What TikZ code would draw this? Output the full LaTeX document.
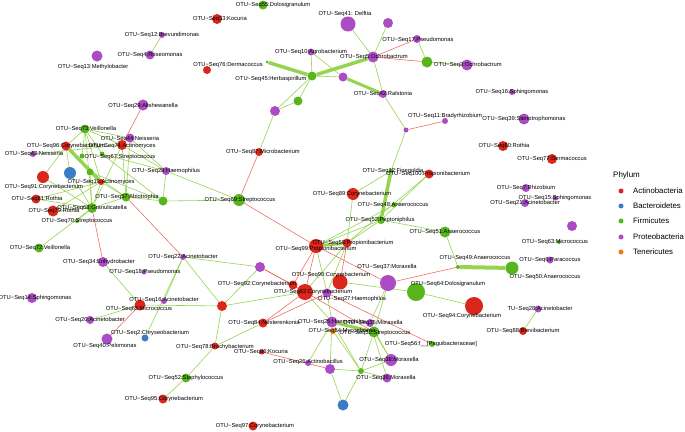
\documentclass[tikz,border=0pt]{standalone}
\usepackage{fontspec}
\setmainfont{Liberation Sans}
\usetikzlibrary{backgrounds}

\definecolor{actc}{RGB}{218,38,28}
\definecolor{bacc}{RGB}{58,125,195}
\definecolor{firc}{RGB}{88,182,28}
\definecolor{proc}{RGB}{172,76,196}
\definecolor{tenc}{RGB}{240,122,20}
\definecolor{edgepos}{RGB}{150,212,80}
\definecolor{edgeneg}{RGB}{238,110,100}

\begin{document}
\begin{tikzpicture}[x=1pt, y=-1pt,
  otu/.style={circle, inner sep=0pt, minimum size=#1},
  act/.style={otu=#1, fill=actc},
  bac/.style={otu=#1, fill=bacc},
  fir/.style={otu=#1, fill=firc},
  pro/.style={otu=#1, fill=proc},
  ten/.style={otu=#1, fill=tenc},
  lab/.style={font=\fontsize{5.8}{6}\selectfont, inner sep=0pt},
  legtext/.style={font=\fontsize{7.8}{9}\selectfont, inner sep=0pt, anchor=west},
  posedge/.style={draw=edgepos, line width=0.6pt},
  negedge/.style={draw=edgeneg, line width=0.6pt},
]
\useasboundingbox (0,0) rectangle (685,431);

% === top ===
\node[fir=9]  (s55) at (263,5) {};
\node[act=10] (s33) at (217,19) {};
\node[pro=6]  (s12) at (162,35) {};
\node[pro=9]  (s4)  at (150,55) {};
\node[pro=11] (s13) at (97,56) {};
\node[act=8]  (s76) at (207,70) {};
\node[pro=15] (s41) at (348,24) {};
\node[pro=10] (u1)  at (388,23) {};
\node[pro=8]  (s17) at (417,39) {};
\node[pro=7]  (s10) at (311,52) {};
\node[pro=11] (s5)  at (373,57) {};
\node[fir=11] (u2)  at (427,62) {};
\node[pro=11] (s3)  at (467,65) {};
\node[fir=3]  (t1)  at (267,62) {};
\node[fir=9]  (s45) at (312,76) {};
\node[pro=9]  (u3)  at (343,77) {};
\node[pro=8]  (s42) at (383,94) {};
\node[pro=5]  (u4)  at (406,130) {};
\node[pro=6]  (s11) at (445,121) {};
\node[fir=9]  (u5)  at (298,101) {};
\node[pro=10] (u6)  at (275,111) {};
\node[act=8]  (s87) at (259,152) {};

% === right column ===
\node[pro=6]  (s16) at (512,92) {};
\node[pro=11] (s39) at (524,119) {};
\node[act=10] (s80) at (503,146) {};
\node[act=10] (s77) at (552,159) {};
\node[pro=8]  (s7)  at (526,188) {};
\node[pro=5]  (s15) at (555,198) {};
\node[pro=8]  (s21) at (525,203) {};
\node[pro=10] (u7)  at (572,226) {};
\node[fir=4]  (s63) at (559,242) {};
\node[pro=7]  (s6)  at (550,260) {};
\node[fir=13] (s50) at (512,268) {};
\node[fir=4]  (s49) at (458,267) {};
\node[fir=11] (s51) at (445,232) {};

% === centre ===
\node[fir=5]  (fg)   at (391,171) {};
\node[act=9]  (s100) at (429,174) {};
\node[act=12] (s89)  at (353,194) {};
\node[fir=5]  (s48)  at (394,205) {};
\node[fir=8]  (pep)  at (381,220) {};
\node[act=9]  (s58)  at (347,243) {};
\node[act=14] (s99)  at (316,246) {};
\node[fir=12] (s69)  at (239,200) {};
\node[fir=9]  (u8)   at (163,201) {};

% === bottom centre ===
\node[pro=16] (s37) at (388,283) {};
\node[fir=18] (s64) at (416,292) {};
\node[act=18] (s94) at (474,306) {};
\node[pro=10] (u9)  at (260,267) {};
\node[act=15] (s90) at (340,282) {};
\node[act=16] (s62) at (305,292) {};
\node[act=9]  (s92) at (293,285) {};
\node[act=10] (u10) at (222,306) {};
\node[pro=9]  (s27) at (327,293) {};
\node[act=9]  (s84) at (263,323) {};
\node[act=5]  (s86) at (262,352) {};
\node[pro=11] (s25) at (332,322) {};
\node[ten=6]  (s54) at (333,331) {};
\node[pro=8]  (s35) at (370,323) {};
\node[fir=11] (s32) at (374,332) {};
\node[fir=6]  (s56) at (432,344) {};
\node[pro=6]  (s26) at (308,363) {};
\node[pro=10] (u12) at (330,369) {};
\node[fir=6]  (u13) at (361,371) {};
\node[pro=12] (s38) at (391,360) {};
\node[pro=9]  (s36) at (387,378) {};
\node[bac=11] (u14) at (343,405) {};
\node[act=9]  (s97) at (253,426) {};
\node[pro=7]  (s28b) at (538,309) {};
\node[act=8]  (s88) at (523,331) {};

% === bottom left ===
\node[pro=6]  (s22) at (183,257) {};
\node[pro=5]  (s18) at (144,272) {};
\node[pro=10] (s34) at (103,262) {};
\node[fir=9]  (s72) at (39,248) {};
\node[pro=6]  (s16b) at (164,301) {};
\node[act=11] (s65) at (140,305) {};
\node[pro=10] (s14) at (32,298) {};
\node[pro=8]  (s20) at (90,320) {};
\node[pro=11] (s40) at (107,339) {};
\node[bac=7]  (s2)  at (145,338) {};
\node[act=7]  (s78) at (215,346) {};
\node[fir=9]  (s52) at (186,378) {};
\node[act=9]  (s95) at (163,399) {};

% === left cluster ===
\node[act=9]  (s96) at (66,146) {};
\node[act=10] (s74) at (122,145) {};
\node[pro=9]  (s44) at (130,138) {};
\node[fir=9]  (s73) at (85,129) {};
\node[pro=11] (s29) at (143,105) {};
\node[pro=6]  (s43) at (33,154) {};
\node[fir=5]  (u15) at (82,156) {};
\node[fir=5]  (s67) at (102,154) {};
\node[act=12] (s91) at (43,177) {};
\node[bac=12] (u16) at (70,173) {};
\node[fir=7]  (u17) at (90,172) {};
\node[act=6]  (s19) at (101,182) {};
\node[act=9]  (s81) at (36,199) {};
\node[fir=9]  (s57) at (126,197) {};
\node[pro=8]  (s28) at (166,171) {};
\node[act=11] (s79) at (53,211) {};
\node[fir=10] (s68) at (92,208) {};
\node[fir=4]  (s70) at (77,221) {};

% === edges ===
\begin{scope}[on background layer]
\draw[posedge] (s12) -- (s4);
\draw[posedge, line width=3.5pt] (t1) -- (s45);
\draw[posedge, line width=3.5pt] (s45) -- (s5);
\draw[posedge] (s41) -- (s5);
\draw[posedge] (u1) -- (s5);
\draw[negedge] (s5) -- (s17);
\draw[negedge] (s5) -- (u2);
\draw[posedge] (s17) -- (u2);
\draw[posedge] (u2) -- (s3);
\draw[posedge] (s45) -- (s10);
\draw[posedge] (s10) -- (u3);
\draw[posedge] (s45) -- (u3);
\draw[posedge, line width=3pt] (u3) -- (s42);
\draw[posedge] (s5) -- (s42);
\draw[posedge] (s42) -- (u4);
\draw[negedge] (u4) -- (s11);
\draw[posedge] (u4) -- (fg);
\draw[posedge] (s45) -- (u5);
\draw[posedge] (s45) -- (u6);
\draw[posedge] (u5) -- (u6);
\draw[posedge] (u6) -- (s87);
\draw[negedge] (s87) -- (s69);
\draw[posedge, line width=3.5pt] (fg) -- (pep);
\draw[posedge] (s89) -- (fg);
\draw[posedge] (s89) -- (s58);
\draw[posedge] (s100) -- (pep);
\draw[posedge] (s100) -- (s58);
\draw[posedge] (s48) -- (s99);
\draw[posedge] (pep) -- (s99);
\draw[posedge] (pep) -- (s58);
\draw[posedge] (pep) -- (s51);
\draw[posedge] (s51) -- (s49);
\draw[posedge, line width=4pt] (s49) -- (s50);
\draw[posedge, line width=3pt] (s99) -- (s58);
\draw[negedge] (s69) -- (s99);
\draw[posedge] (u8) -- (s69);
\draw[posedge] (s28) -- (s69);
\draw[negedge] (s99) -- (s37);
\draw[negedge] (s37) -- (s49);
\draw[posedge] (s90) -- (s64);
\draw[posedge] (s64) -- (s94);
\draw[posedge] (s37) -- (s35);
\draw[posedge] (s37) -- (s32);
\draw[negedge] (s99) -- (s62);
\draw[negedge] (s99) -- (s92);
\draw[posedge] (s99) -- (s27);
\draw[negedge] (s58) -- (s90);
\draw[posedge] (s58) -- (s62);
\draw[posedge] (s58) -- (s27);
\draw[negedge] (u9) -- (s92);
\draw[posedge] (s22) -- (u9);
\draw[negedge] (u9) -- (s62);
\draw[negedge] (s62) -- (s84);
\draw[negedge] (s27) -- (s84);
\draw[negedge] (s27) -- (s56);
\draw[negedge] (s62) -- (s32);
\draw[posedge, line width=3pt] (s25) -- (s32);
\draw[posedge] (s27) -- (s25);
\draw[posedge] (s62) -- (s25);
\draw[posedge] (s35) -- (s38);
\draw[posedge] (s32) -- (s38);
\draw[posedge] (s25) -- (u12);
\draw[posedge] (s25) -- (u13);
\draw[posedge] (s25) -- (s26);
\draw[posedge] (s54) -- (u13);
\draw[negedge] (s86) -- (u12);
\draw[posedge] (u12) -- (u13);
\draw[posedge] (u12) -- (u14);
\draw[posedge] (u13) -- (u14);
\draw[posedge] (u13) -- (s38);
\draw[posedge] (u13) -- (s36);
\draw[posedge] (s32) -- (u13);
\draw[posedge] (s35) -- (s36);
\draw[posedge] (s78) -- (s84);
\draw[posedge] (u10) -- (s62);
\draw[posedge] (u10) -- (s78);
\draw[posedge] (u10) -- (s65);
\draw[posedge] (u10) -- (s22);
\draw[posedge] (u10) -- (u9);
\draw[posedge] (s22) -- (s2);
\draw[posedge] (s22) -- (s16b);
\draw[posedge] (s34) -- (s65);
\draw[posedge] (s20) -- (s65);
\draw[negedge] (s65) -- (s40);
\draw[posedge] (s78) -- (s52);
\draw[posedge] (s52) -- (s95);
\draw[posedge] (s28b) -- (s88);
\draw[negedge] (s57) -- (s22);
\draw[negedge] (s68) -- (s34);
\draw[posedge] (s72) -- (s68);
\draw[negedge] (s29) -- (s74);
\draw[posedge, line width=3.5pt] (s96) -- (s19);
\draw[posedge] (s73) -- (s96);
\draw[posedge] (s73) -- (s74);
\draw[posedge] (s73) -- (s44);
\draw[posedge] (s73) -- (s19);
\draw[posedge] (s73) -- (s67);
\draw[posedge] (s73) -- (u15);
\draw[posedge] (s73) -- (s68);
\draw[posedge] (s43) -- (s74);
\draw[posedge] (s74) -- (s57);
\draw[posedge] (s74) -- (s28);
\draw[posedge] (s74) -- (s68);
\draw[posedge] (s44) -- (s28);
\draw[posedge] (s44) -- (s57);
\draw[posedge] (s67) -- (s28);
\draw[posedge] (s67) -- (u8);
\draw[posedge] (s91) -- (s96);
\draw[posedge] (s91) -- (s68);
\draw[posedge] (u16) -- (s68);
\draw[posedge] (u16) -- (s96);
\draw[posedge] (u17) -- (s68);
\draw[posedge] (u17) -- (s57);
\draw[posedge] (u17) -- (u8);
\draw[posedge] (s19) -- (s68);
\draw[posedge] (s19) -- (s57);
\draw[posedge] (s81) -- (s68);
\draw[posedge] (s81) -- (s19);
\draw[posedge] (s79) -- (s68);
\draw[posedge] (s79) -- (s19);
\draw[posedge] (s57) -- (u8);
\draw[posedge] (s28) -- (u8);
\draw[posedge] (s68) -- (s57);
\draw[posedge] (s68) -- (s70);
\end{scope}

% === labels ===
\node[lab] (l55) at (273,5) {OTU−Seq55:Dolosigranulum};
\node[lab] (l33) at (220,19) {OTU−Seq33:Kocuria};
\node[lab] (l12) at (162,35) {OTU−Seq12:Brevundimonas};
\node[lab] (l4) at (150,55) {OTU−Seq4:Roseomonas};
\node[lab] (l13) at (93,67) {OTU−Seq13:Methylobacter};
\node[lab] (l76) at (228,65) {OTU−Seq76:Dermacoccus};
\node[lab] (l41) at (345,14) {OTU−Seq41: Delftia};
\node[lab] (l17) at (418,40) {OTU−Seq17:Pseudomonas};
\node[lab] (l10) at (311,52) {OTU−Seq10:Agrobacterium};
\node[lab] (l5) at (374,57) {OTU−Seq5:Ochrobactrum};
\node[lab] (l3) at (468,65) {OTU−Seq3:Ochrobactrum};
\node[lab] (l45) at (271,79) {OTU−Seq45:Herbaspirillum};
\node[lab] (l42) at (383,94) {OTU−Seq42:Ralstonia};
\node[lab] (l11) at (445,116) {OTU−Seq11:Bradyrhizobium};
\node[lab] (l87) at (263,152) {OTU−Seq87:Microbacterium};
\node[lab] (l16) at (512,92) {OTU−Seq16:Sphingomonas};
\node[lab] (l39) at (524,119) {OTU−Seq39:Stenotrophomonas};
\node[lab] (l80) at (504,146) {OTU−Seq80:Rothia};
\node[lab] (l77) at (552,159) {OTU−Seq77:Dermacoccus};
\node[lab] (l7) at (526,188) {OTU−Seq7:Rhizobium};
\node[lab] (l15) at (555,198) {OTU−Seq15:Sphingomonas};
\node[lab] (l21) at (525,203) {OTU−Seq21:Acinetobacter};
\node[lab] (l63) at (555,242) {OTU−Seq63:Micrococcus};
\node[lab] (l6) at (550,260) {OTU−Seq6:Paracoccus};
\node[lab] (l50) at (545,277) {OTU−Seq50:Anaerococcus};
\node[lab] (l49) at (475,258) {OTU−Seq49:Anaerococcus};
\node[lab] (l51) at (445,232) {OTU−Seq51:Anaerococcus};
\node[lab] (lfg) at (393,171) {OTU−Seq12:Finegoldia};
\node[lab] (l100) at (428,174) {OTU−Seq100:Propionibacterium};
\node[lab] (l89) at (352,194) {OTU−Seq89:Corynebacterium};
\node[lab] (l48) at (393,205) {OTU−Seq48:Anaerococcus};
\node[lab] (lpep) at (380,220) {OTU−Seq52:Peptoniphilus};
\node[lab] (l58) at (353,243) {OTU−Seq58:Propionibacterium};
\node[lab] (l99) at (316,249) {OTU−Seq99:Propionibacterium};
\node[lab] (l69) at (240,200) {OTU−Seq69:Streptococcus};
\node[lab] (l37) at (387,267) {OTU−Seq37:Moraxella};
\node[lab] (l64) at (448,284) {OTU−Seq64:Dolosigranulum};
\node[lab] (l94) at (462,316) {OTU−Seq94:Corynebacterium};
\node[lab] (l92) at (257,284) {OTU−Seq92:Corynebacterium};
\node[lab] (l90) at (331,275) {OTU−Seq90:Corynebacterium};
\node[lab] (l62) at (313,292) {OTU−Seq62:Corynebacterium};
\node[lab] (l27) at (352,299) {OTU−Seq27:Haemophilus};
\node[lab] (l84) at (264,323) {OTU−Seq84:Nesterenkonia};
\node[lab] (l86) at (261,352) {OTU−Seq86:Kocuria};
\node[lab] (l25) at (332,322) {OTU−Seq25:Haemophilus};
\node[lab] (l54) at (342,331) {OTU−Seq54:Mycoplasma};
\node[lab] (l35) at (373,323) {OTU−Seq35:Moraxella};
\node[lab] (l32) at (375,333) {OTU−Seq32:Streptococcus};
\node[lab] (l56) at (431,344) {OTU−Seq56:f\_\_[Paguibacteraceae]};
\node[lab] (l26) at (308,362) {OTU−Seq26:Actinobacillus};
\node[lab] (l38) at (389,360) {OTU−Seq38:Moraxella};
\node[lab] (l36) at (386,378) {OTU−Seq36:Moraxella};
\node[lab] (l97) at (255,426) {OTU−Seq97:Corynebacterium};
\node[lab] (l28b) at (540,309) {TU−Seq28:Acinetobacter};
\node[lab] (l88) at (523,331) {OTU−Seq88:Brevibacterium};
\node[lab] (l22) at (183,257) {OTU−Seq22:Acinetobacter};
\node[lab] (l18) at (145,272) {OTU−Seq18:Pseudomonas};
\node[lab] (l34) at (99,262) {OTU−Seq34:Enhydrobacter};
\node[lab] (l72) at (40,248) {OTU−Seq72:Veillonella};
\node[lab] (l16b) at (164,300) {OTU−Seq16:Acinetobacter};
\node[lab] (l65) at (139,309) {OTU−Seq65:Micrococcus};
\node[lab] (l14) at (35,298) {OTU−Seq14:Sphingomonas};
\node[lab] (l20) at (90,320) {OTU−Seq20:Acinetobacter};
\node[lab] (l40) at (105,346) {OTU−Seq40:Pelomonas};
\node[lab] (l2) at (150,333) {OTU−Seq2:Chryseobacterium};
\node[lab] (l78) at (215,347) {OTU−Seq78:Brachybacterium};
\node[lab] (l52) at (186,378) {OTU−Seq52:Staphylococcus};
\node[lab] (l95) at (164,399) {OTU−Seq95:Corynebacterium};
\node[lab] (l96) at (66,146) {OTU−Seq96:Corynebacterium};
\node[lab] (l74) at (122,146) {OTU−Seq74:Actinomyces};
\node[lab] (l44) at (130,139) {OTU−Seq44:Neisseria};
\node[lab] (l73) at (86,129) {OTU−Seq73:Veillonella};
\node[lab] (l29) at (143,106) {OTU−Seq29:Alishewanella};
\node[lab] (l43) at (34,154) {OTU−Seq43:Neisseria};
\node[lab] (l67) at (120,157) {OTU−Seq67:Streptococcus};
\node[lab] (l91) at (44,187) {OTU−Seq91:Corynebacterium};
\node[lab] (l19) at (101,182) {OTU−Seq19:Actinomyces};
\node[lab] (l81) at (37,199) {OTU−Seq81:Rothia};
\node[lab] (l57) at (127,197) {OTU−Seq57:Abiotrophia};
\node[lab] (l28) at (166,171) {OTU−Seq28:Haemophilus};
\node[lab] (l79) at (54,211) {OTU−Seq79:Rothia};
\node[lab] (l68) at (92,208) {OTU−Seq68:Granulicatella};
\node[lab] (l70) at (77,221) {OTU−Seq70:Streptococcus};

% === legend ===
\node[font=\fontsize{8}{10}\selectfont, inner sep=0pt, anchor=west] (phylum) at (613,175) {Phylum};
\node[act=5] (kact) at (621,191) {};
\node[bac=5] (kbac) at (621,206) {};
\node[fir=5] (kfir) at (621,221) {};
\node[pro=5] (kpro) at (621,237) {};
\node[ten=5] (kten) at (621,252) {};
\node[legtext] (tact) at (633,191) {Actinobacteria};
\node[legtext] (tbac) at (633,206) {Bacteroidetes};
\node[legtext] (tfir) at (633,221) {Firmicutes};
\node[legtext] (tpro) at (633,237) {Proteobacteria};
\node[legtext] (tten) at (633,252) {Tenericutes};

\end{tikzpicture}
\end{document}
